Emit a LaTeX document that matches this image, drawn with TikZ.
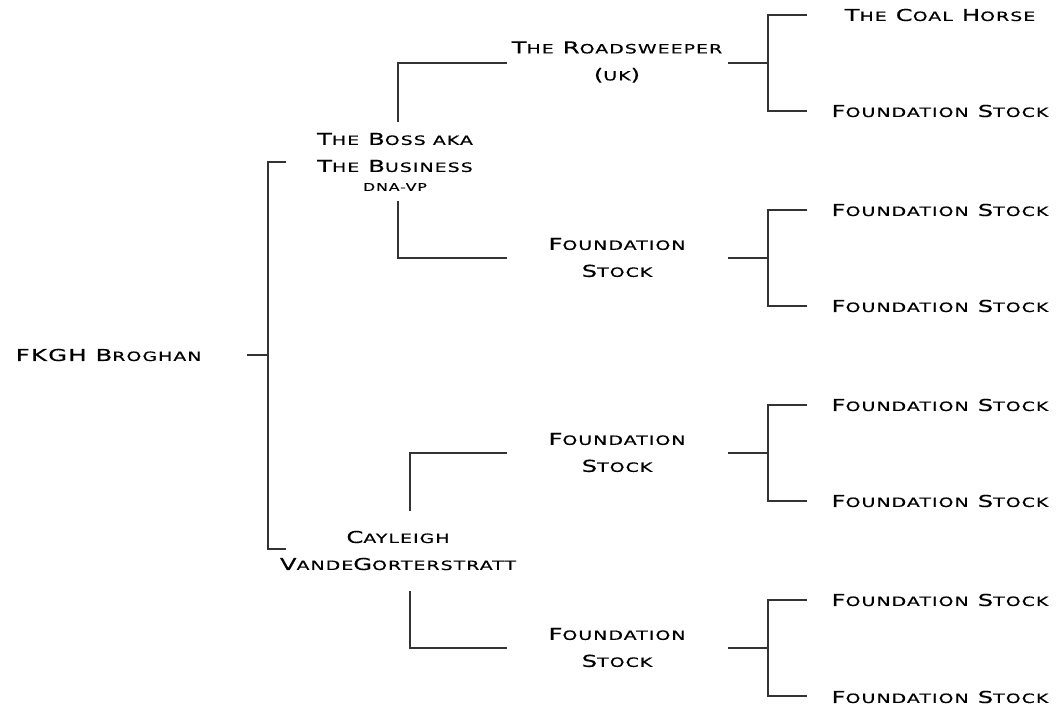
\documentclass[tikz,border=0pt]{standalone}
\usepackage{fontspec}
\newfontfamily\cpfont[FakeStretch=1.48,LetterSpace=8,FakeBold=0.4]{DejaVu Sans}
\newcommand{\lc}[1]{{\fontsize{9.6}{20.25}\selectfont #1}}
\newcommand{\tn}[1]{{\fontsize{8}{10}\selectfont #1}}
\usepackage{tikz}
\usetikzlibrary{positioning}
\tikzset{>=stealth}

\begin{document}
\begin{tikzpicture}[x=0.75pt, y=-0.75pt, line width=1.1pt, draw=black!80,
	every node/.style={font=\cpfont\fontsize{12.3}{20.25}\selectfont, text=black, align=center, inner sep=0pt}]
			\useasboundingbox (0,0) rectangle (1057,709);

			\node[anchor=west] (A) at (15,355) {FKGH B\lc{ROGHAN}};
			\node (B1) at (395,152.5) {T\lc{HE} B\lc{OSS AKA}\\T\lc{HE} B\lc{USINESS}};
			\node (B1n) at (395,187) {\tn{DNA-VP}};
			\node (B2) at (398,550.5) {C\lc{AYLEIGH}\\V\lc{ANDE}G\lc{ORTERSTRATT}};
			\node (C1) at (617,62) {T\lc{HE} R\lc{OADSWEEPER}\\(\lc{UK})};
			\node (C2) at (617,257.5) {F\lc{OUNDATION}\\S\lc{TOCK}};
			\node (C3) at (617,452.5) {F\lc{OUNDATION}\\S\lc{TOCK}};
			\node (C4) at (617,647.5) {F\lc{OUNDATION}\\S\lc{TOCK}};
			\node (D1) at (940,15) {T\lc{HE} C\lc{OAL} H\lc{ORSE}};
			\node (D2) at (940,111) {F\lc{OUNDATION} S\lc{TOCK}};
			\node (D3) at (940,210) {F\lc{OUNDATION} S\lc{TOCK}};
			\node (D4) at (940,306) {F\lc{OUNDATION} S\lc{TOCK}};
			\node (D5) at (940,405) {F\lc{OUNDATION} S\lc{TOCK}};
			\node (D6) at (940,501) {F\lc{OUNDATION} S\lc{TOCK}};
			\node (D7) at (940,600) {F\lc{OUNDATION} S\lc{TOCK}};
			\node (D8) at (940,697) {F\lc{OUNDATION} S\lc{TOCK}};

			\coordinate (Ae) at (247,355);   \coordinate (Aj) at (268,355);
			\coordinate (B1w) at (286,162);  \coordinate (B2w) at (286,549);
			\coordinate (B1t) at (398,122);  \coordinate (B1b) at (398,201);
			\coordinate (B2t) at (410,511);  \coordinate (B2b) at (410,591);
			\coordinate (C1w) at (507,63);   \coordinate (C2w) at (507,258);
			\coordinate (C3w) at (507,453);  \coordinate (C4w) at (507,648);
			\coordinate (C1e) at (728,63);   \coordinate (C1j) at (768,63);
			\coordinate (C2e) at (728,258);  \coordinate (C2j) at (768,258);
			\coordinate (C3e) at (728,453);  \coordinate (C3j) at (768,453);
			\coordinate (C4e) at (728,648);  \coordinate (C4j) at (768,648);
			\coordinate (D1w) at (807,15);   \coordinate (D2w) at (807,111);
			\coordinate (D3w) at (807,210);  \coordinate (D4w) at (807,306);
			\coordinate (D5w) at (807,405);  \coordinate (D6w) at (807,501);
			\coordinate (D7w) at (807,600);  \coordinate (D8w) at (807,696);

			\draw (Ae)--(Aj);
			\draw (B1w) -| (Aj) |- (B2w);
			\draw (B1t) |- (C1w);
			\draw (B1b) |- (C2w);
			\draw (B2t) |- (C3w);
			\draw (B2b) |- (C4w);
			\draw (C1e)--(C1j);  \draw (D1w) -| (C1j) |- (D2w);
			\draw (C2e)--(C2j);  \draw (D3w) -| (C2j) |- (D4w);
			\draw (C3e)--(C3j);  \draw (D5w) -| (C3j) |- (D6w);
			\draw (C4e)--(C4j);  \draw (D7w) -| (C4j) |- (D8w);

			\end{tikzpicture}
\end{document}
